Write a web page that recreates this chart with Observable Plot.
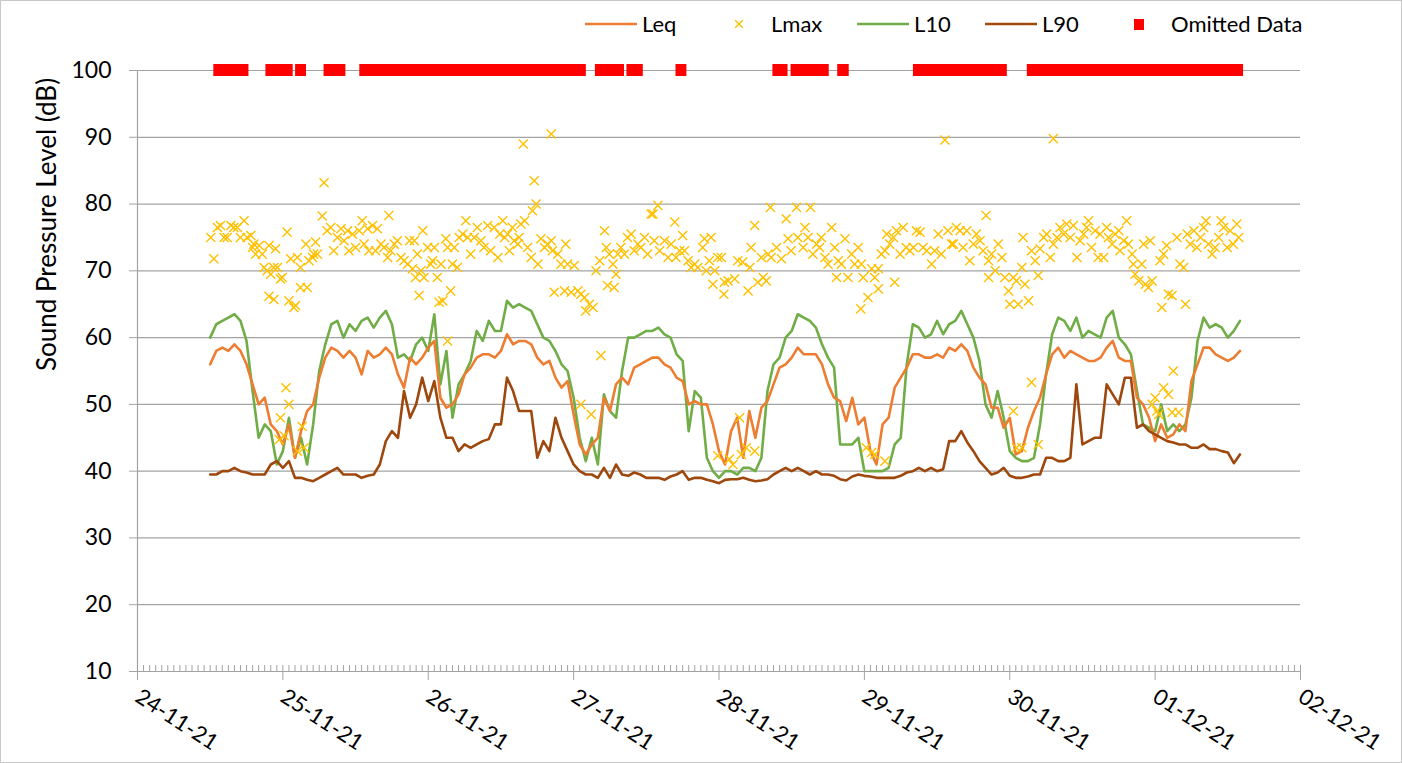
<!DOCTYPE html>
<html>
<head>
<meta charset="utf-8">
<script src="https://cdn.jsdelivr.net/npm/d3@7"></script>
<script src="https://cdn.jsdelivr.net/npm/@observablehq/plot@0.6"></script>
<style>
  html, body { margin: 0; padding: 0; background: #fff; }
  body { font-family: Lato, "Open Sans", sans-serif; }
  #frame { position: fixed; left: 0; top: 0; width: 1402px; height: 763px; box-sizing: border-box; border: 1px solid #c8c8c8; pointer-events: none; }
  #legend { display: block; }
  #chart svg { display: block; }
</style>
</head>
<body>
<div id="legend"></div>
<div id="chart"></div>
<div id="frame"></div>
<script>
// ---------- data ----------
const seriesNames = ["Leq", "Lmax", "L10", "L90", "Omitted Data"];
const seriesColors = ["#ED7D31", "#FFC000", "#70AD47", "#9E480E", "#FF0000"];
const dayTickLabels = ["24-11-21","25-11-21","26-11-21","27-11-21","28-11-21","29-11-21","30-11-21","01-12-21","02-12-21"];
const yTicks = [10, 20, 30, 40, 50, 60, 70, 80, 90, 100];
const startHour = 12; // hourly samples from 24-11-21 12:00

const leq = [
  56, 58, 58.5, 58, 59, 58, 56, 53, 50, 51, 47, 46, 44, 47, 42, 46, 49, 50, 54, 57, 58.5, 58, 57, 58,
  57, 54.5, 58, 57, 57.5, 58.5, 57.5, 54.5, 52.5, 57, 56, 57, 58.5, 59.5, 51, 49.5, 50, 51.5, 54.5, 55.5, 57, 57.5, 57.5, 57,
  58, 60.5, 59, 59.5, 59.5, 59, 57, 56, 56.5, 54, 52.5, 53.5, 48.5, 44, 42.5, 44, 45, 51, 49, 53, 54, 53, 55.5, 56, 56.5,
  57, 57, 56, 55.5, 54, 53.5, 50, 50.5, 50, 50, 47, 43, 41, 46, 48, 42, 49, 45, 49.5, 50.5, 53, 55.5, 56, 57, 58.5,
  57.5, 57.5, 57.5, 56, 53, 51, 50.5, 47.5, 51, 47, 48, 43, 41, 47, 48, 52.5, 54, 55.5, 57.5, 57.5, 57, 57, 57.5, 57, 58.5,
  58, 59, 58, 55.5, 54, 53, 49.5, 49.5, 46.5, 48, 42.5, 43, 46.5, 49, 51, 54.5, 57.5, 58.5, 57, 58, 57.5, 57, 56.5, 56.5, 57,
  58.5, 59.5, 57, 56.5, 56.5, 51, 50, 48, 44.5, 47, 45, 45.5, 47, 46, 53.5, 56, 58.5, 58.5, 57.5, 57, 56.5, 57, 58
];
const l10 = [
  60, 62, 62.5, 63, 63.5, 62.5, 59.5, 52, 45, 47, 46, 41, 43, 48, 42, 45, 41, 47, 55, 59, 62, 62.5, 60, 62,
  61, 62.5, 63, 61.5, 63, 64, 62, 57, 57.5, 56.5, 59, 60, 58, 63.5, 53, 58, 48, 53, 54.5, 56.5, 61, 59.5, 62.5, 61,
  61, 65.5, 64.5, 65, 64.5, 64, 62, 60, 59.5, 58, 56, 55, 51, 45, 41.5, 45, 41, 51.5, 49, 48, 55, 60, 60, 60.5, 61,
  61, 61.5, 60.5, 60, 57.5, 56.5, 46, 52, 51, 42, 40, 39, 40, 40, 39.5, 40.5, 40.5, 40, 42, 52, 56, 57, 60, 61, 63.5,
  63, 62.5, 61.5, 59, 57, 55.5, 44, 44, 44, 45, 40, 40, 40, 40, 40.5, 44, 45, 56, 62, 61.5, 60, 60.5, 62.5, 60.5, 62,
  62.5, 64, 62, 60, 56.5, 50, 48, 52, 48, 43, 42, 41.5, 41.5, 42, 47, 54.5, 60.5, 63, 62.5, 61, 63, 60, 61, 60.5, 60,
  63, 64, 60, 59, 57.5, 52, 47, 46.5, 46, 50, 46, 47, 46, 47, 51, 59.5, 63, 61.5, 62, 61.5, 60, 61, 62.5
];
const l90 = [
  39.5, 39.5, 40, 40, 40.5, 40, 39.8, 39.5, 39.5, 39.5, 41, 41.5, 40.5, 41.5, 39, 39, 38.7, 38.5, 39, 39.5, 40, 40.5, 39.5, 39.5,
  39.5, 39, 39.3, 39.5, 41, 44.5, 46, 45, 52, 48, 50, 54, 50.5, 53.5, 48, 45, 45, 43, 44, 43.5, 44, 44.5, 44.8, 47,
  47, 54, 52, 49, 49, 49, 42, 44.5, 43, 48, 45, 43, 41, 40, 39.5, 39.5, 39, 40.5, 39, 41, 39.5, 39.3, 39.8, 39.5, 39,
  39, 39, 38.7, 39.2, 39.5, 40, 38.7, 39, 39, 38.7, 38.5, 38.2, 38.7, 38.8, 38.8, 39, 38.7, 38.5, 38.6, 38.8, 39.5, 40, 40.5, 40, 40.5,
  40, 39.5, 40, 39.5, 39.5, 39.3, 38.8, 38.6, 39.2, 39.5, 39.3, 39.2, 39, 39, 39, 39, 39.3, 39.8, 40, 40.5, 40, 40.5, 40, 40.3, 44.5,
  44.5, 46, 44.3, 43, 41.5, 40.5, 39.5, 39.8, 40.5, 39.3, 39, 39, 39.2, 39.5, 39.5, 42, 42, 41.5, 41.5, 42, 53, 44, 44.5, 45, 45,
  53, 51.5, 50, 54, 54, 46.5, 47, 46, 45.5, 45, 44.5, 44.3, 44, 44, 43.5, 43.5, 44, 43.3, 43.3, 43, 42.8, 41.2, 42.5
];

// Lmax: hour since 24-11-21 00:00, value (dB)
const lmaxHour = [
  12.1,12.6,13.2,13.7,14.3,14.8,15.4,15.9,16.5,17.0,17.6,18.1,18.7,19.0,19.2,19.5,20.1,20.6,20.9,21.4,21.7,21.7,22.0,22.5,22.5,22.8,23.1,23.4,23.6,23.6,23.9,24.2,24.5,24.7,25.0,25.0,25.3,25.8,26.1,26.4,26.4,26.9,26.9,27.2,27.5,27.8,28.0,28.3,28.9,29.1,29.4,29.7,30.5,30.8,31.3,31.9,32.4,33.0,33.6,34.1,34.7,34.9,
  35.5,36.0,36.6,37.1,37.4,38.0,38.2,38.8,39.3,39.6,40.2,40.7,41.3,41.5,41.8,42.4,42.9,43.5,44.0,44.6,44.9,45.4,45.7,45.9,46.2,46.5,46.8,47.1,47.3,47.9,48.4,48.7,49.0,49.5,49.8,50.1,50.4,50.9,51.2,51.2,51.7,52.0,52.3,52.8,53.1,53.7,54.2,54.5,55.0,55.6,56.1,56.7,57.2,57.8,58.3,58.9,59.5,59.8,
  60.3,60.6,61.1,61.4,61.9,62.2,62.8,63.0,63.3,63.7,63.9,64.4,65.0,65.2,65.5,65.8,66.1,66.6,67.2,67.7,68.3,68.3,68.5,68.8,69.4,69.9,70.5,70.7,71.0,71.6,72.1,72.7,73.2,73.2,73.8,74.0,74.6,74.9,75.2,75.7,76.3,76.5,77.1,77.4,77.6,77.9,78.5,78.7,79.0,79.3,79.8,80.4,80.9,81.5,82.0,82.6,83.1,83.7,84.2,84.8,
  85.1,85.3,85.9,86.2,87.0,87.6,88.1,88.7,88.9,89.5,90.0,90.3,90.9,91.4,92.0,92.5,93.3,93.6,93.9,94.4,94.7,95.0,95.3,95.8,95.8,96.4,96.8,96.9,97.5,97.7,98.3,98.6,99.1,99.4,99.7,99.9,100.5,100.8,101.1,101.3,101.9,101.9,102.4,103.0,103.3,103.8,104.1,104.5,104.6,105.5,106.3,107.1,107.4,107.9,108.8,109.0,
  109.9,110.2,110.7,111.1,111.5,112.1,112.6,112.9,113.5,114.0,114.6,115.1,115.4,115.7,116.2,116.8,117.3,117.9,118.4,119.0,119.4,119.5,119.8,120.3,120.6,121.2,121.2,121.7,121.7,122.3,122.3,122.8,123.4,123.4,123.7,124.2,124.8,125.0,125.3,125.9,126.4,126.9,127.5,128.1,128.6,129.2,129.7,130.3,131.1,131.6,132.2,132.7,133.3,133.8,134.4,
  134.7,135.2,135.8,136.3,136.9,137.4,138.0,138.5,139.1,139.6,140.1,140.5,140.5,141.0,141.6,142.1,142.7,143.2,143.8,144.0,144.6,144.6,145.1,145.1,145.4,146.0,146.0,146.2,146.5,147.1,147.6,147.6,148.2,148.7,148.7,149.0,149.6,150.1,150.7,151.2,151.2,151.8,152.3,152.9,153.4,154.0,154.5,155.1,155.6,156.2,156.7,157.0,157.5,158.1,158.6,158.9,
  159.5,160.0,160.3,160.9,161.4,162.0,162.2,162.8,163.3,163.6,164.2,164.4,164.7,165.3,165.8,166.1,166.4,166.9,167.2,167.5,167.5,168.0,168.3,168.6,168.8,169.1,169.4,169.4,169.9,170.2,170.2,170.8,170.8,171.0,171.6,171.9,172.1,172.7,173.0,173.3,173.8,174.4,174.9,175.5,176.0,176.4,176.8,177.4,177.9,178.5,178.9,179.3,179.9,180.4,180.9,181.5,181.8
];
const lmaxValue = [
  75,71.8,76.5,76.8,75,75,76.8,76.5,76.5,75,77.5,75,75.3,73.5,74,72.5,73.8,72.5,70.5,70,73.8,66.2,69.5,70.5,65.7,73.3,70.5,44.7,68.8,48,69,45.3,52.5,75.8,65.5,50,71.8,64.5,64.8,72,43,70.5,67.5,46.7,43.5,74,67.5,71.5,72,72.5,74.3,72.5,78.2,83.2,76,76.5,73,75,76.3,74.5,76,73,
  75.5,73.5,76,77.5,74,76.3,73,76.8,73,76.3,74,73.5,72,78.3,73,74,74.5,72,71.5,71,74.5,70.3,74.5,69,72.5,66.3,70,76,69,73.5,71,71.5,73.5,69,65.3,71,65.5,74.8,73.5,59.5,67,71,73.5,70.5,75,75.5,77.5,75,72.5,75,76.5,74.5,73.5,76.8,73,76.5,72,75.5,
  77.5,75,75.5,73,76.5,74.5,74,75,77,89,77.5,73.5,72,79,83.5,80,71,74.8,73.5,74,74.5,90.5,73,66.8,72.5,71,67,74,71,66.8,70.8,67,66.5,50,66,64,65,48.5,64.5,70,71.5,57.3,76,73.5,67.8,72.5,71,67.5,69.5,72.5,73.5,72.5,75,75.5,73,74,73.5,75,72.5,78.5,
  78.5,74.5,79.8,73,74.5,72,74,77.3,72,73,75.3,73,71.5,70.5,71,70.5,73.5,74.8,70,71.5,75,68,70,72,42.3,72,66.5,68.3,68.5,41.8,41,68.8,71.5,48,42.5,71.3,43.5,67,70.5,73.5,76.8,43,68.3,72,69,68.5,72.5,79.5,72,73.5,71.8,77.8,74.8,73,79.5,75,
  73.5,76.5,75,79.5,72.5,74,73.5,75,72,71,76.5,73.5,69,71.5,71,74.8,69,72.5,71,73.5,64.3,71,69,43.5,66,70.3,42.8,69,42.5,70.3,67.3,72.5,73,41.5,75.5,74,75,68.3,76,72.5,76.5,73.5,73,73.5,76,75.8,73.5,73,71,73,75.5,72.5,89.6,76,74,
  74,76.5,76,73.5,76,71.5,74,75.5,74.5,73,78.3,71.5,69,72.5,70,74,72,69,67,65,69,49,68.5,43.5,65,70.5,43.5,75,68,65.5,73,53.3,71.5,69.3,44,73.3,75,75.5,72,89.8,74,75,76.5,75.5,77,75,76.8,72,74.5,75.5,76.5,77.5,73.5,76,72,75.5,
  72,76.5,75,74,75.5,76,73,74.5,77.5,74,72.5,71,69.5,68.5,71,74,68,67.5,74.5,68.5,50,51,49,48.5,71.5,64.5,72.5,52.5,73.8,66.5,51.5,66.3,48.8,55,75,48.8,71,70.5,65,75.5,74,76,73.5,75,76.5,77.5,74,72.5,73.5,75,77.5,76.5,73.5,76,74,77,75
];

// Omitted data periods (hours since 24-11-21 00:00)
const omittedStart = [12.6, 21.2, 26.1, 30.8, 36.7, 75.6, 80.8, 88.9, 104.9, 107.9, 115.6, 128.1, 146.9];
const omittedEnd   = [18.4, 25.7, 27.9, 34.4, 74.1, 80.4, 83.5, 90.7, 107.4, 114.2, 117.5, 143.6, 182.6];

// ---------- build ----------
const origin = Date.UTC(2021, 10, 24);
const toDate = h => new Date(origin + h * 3600000);
const dayTicks = dayTickLabels.map((_, i) => toDate(i * 24));
const hourTicks = d3.range(0, 8 * 24 + 1).map(toDate);

const lineData = leq.map((v, i) => ({t: toDate(startHour + i), Leq: v, L10: l10[i], L90: l90[i]}));
const lmaxData = lmaxHour.map((h, i) => ({t: toDate(h), v: lmaxValue[i]}));
const omitted = omittedStart.map((s, i) => ({a: toDate(s), b: toDate(omittedEnd[i])}));

const GRID = "#a3a3a3";
const FONT = "Lato, 'Open Sans', sans-serif";

const chart = Plot.plot({
  width: 1402,
  height: 715,
  marginTop: 22,
  marginBottom: 92,
  marginLeft: 137,
  marginRight: 102,
  style: {fontFamily: FONT, color: "#000", background: "#fff"},
  x: {type: "utc", domain: [dayTicks[0], dayTicks[dayTicks.length - 1]]},
  y: {domain: [10, 100]},
  marks: [
    Plot.gridY(yTicks, {stroke: GRID, strokeOpacity: 1, strokeWidth: 1.2}),
    Plot.ruleX([dayTicks[0]], {stroke: GRID, strokeWidth: 1.2}),
    Plot.axisX(hourTicks, {tickSize: 6, dy: -6, tickFormat: () => "", stroke: GRID, label: null}),
    Plot.axisX(dayTicks, {tickSize: 9, tickRotate: 33, tickPadding: 14, fontSize: 22, tickFormat: (d, i) => dayTickLabels[i], stroke: GRID, label: null}),
    Plot.axisY(yTicks, {tickSize: 8, tickPadding: 18, fontSize: 23, stroke: GRID, label: null}),
    Plot.text(["Sound Pressure Level (dB)"], {frameAnchor: "left", dx: -90, rotate: -90, fontSize: 26, fill: "#000"}),
    Plot.rect(omitted, {x1: "a", x2: "b", y1: 99.1, y2: 100.9, fill: seriesColors[4]}),
    Plot.line(lineData, {x: "t", y: "L10", stroke: seriesColors[2], strokeWidth: 2.6}),
    Plot.line(lineData, {x: "t", y: "Leq", stroke: seriesColors[0], strokeWidth: 2.6}),
    Plot.line(lineData, {x: "t", y: "L90", stroke: seriesColors[3], strokeWidth: 2.6}),
    Plot.dot(lmaxData, {x: "t", y: "v", symbol: "times", r: 4.2, stroke: seriesColors[1], strokeWidth: 1.4})
  ]
});
document.getElementById("chart").appendChild(chart);

// ---------- legend (above the chart) ----------
const legendItems = [
  {name: seriesNames[0], color: seriesColors[0], kind: "line", x: 585, tx: 642},
  {name: seriesNames[1], color: seriesColors[1], kind: "cross", x: 739, tx: 771},
  {name: seriesNames[2], color: seriesColors[2], kind: "line", x: 857, tx: 914},
  {name: seriesNames[3], color: seriesColors[3], kind: "line", x: 985, tx: 1042},
  {name: seriesNames[4], color: seriesColors[4], kind: "square", x: 1139, tx: 1171}
];
const lg = d3.select("#legend").append("svg").attr("width", 1402).attr("height", 48)
  .style("font-family", FONT).style("display", "block");
legendItems.forEach(it => {
  const g = lg.append("g");
  if (it.kind === "line") {
    g.append("line").attr("x1", it.x).attr("x2", it.x + 52).attr("y1", 24).attr("y2", 24)
      .attr("stroke", it.color).attr("stroke-width", 2.6);
  } else if (it.kind === "cross") {
    g.append("path").attr("d", d3.symbol(d3.symbolTimes, 40)()).attr("transform", `translate(${it.x},24)`)
      .attr("fill", "none").attr("stroke", it.color).attr("stroke-width", 1.4);
  } else {
    g.append("rect").attr("x", it.x - 5).attr("y", 19).attr("width", 10).attr("height", 11).attr("fill", it.color);
  }
  g.append("text").attr("x", it.tx).attr("y", 24).attr("dy", "0.35em").attr("font-size", 22).text(it.name);
});
</script>
</body>
</html>
